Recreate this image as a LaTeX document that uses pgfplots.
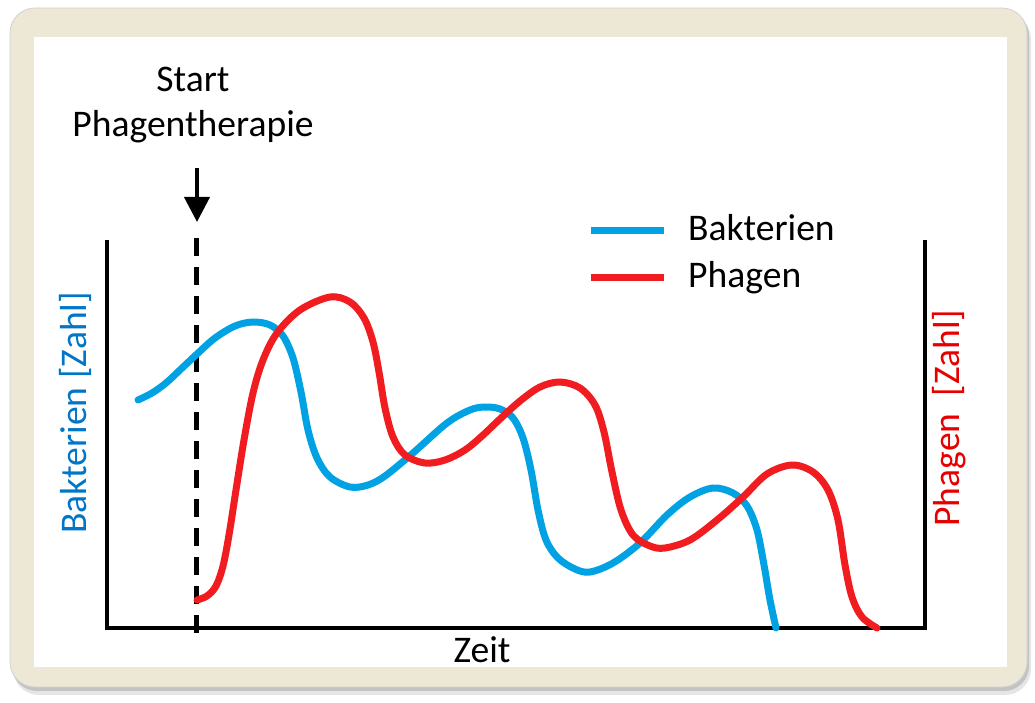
\documentclass[border=0pt]{standalone}
\usepackage{fontspec}
\setmainfont{Carlito}
\usepackage{pgfplots}
\pgfplotsset{compat=1.18}
\usetikzlibrary{arrows.meta}

\definecolor{bact}{RGB}{0,162,227}
\definecolor{phag}{RGB}{240,28,32}
\definecolor{bactlab}{RGB}{0,118,200}
\definecolor{phaglab}{RGB}{232,0,0}
\definecolor{framecol}{RGB}{236,232,213}

\newcommand{\bigfont}{\fontsize{37.6}{45}\selectfont}

\begin{document}
\begin{tikzpicture}
	% whole picture: 1035 x 703 (1px = 1pt, y counted from the bottom)
	\path (0pt,0pt) rectangle (1035pt,703pt);
	% frame: shadow, beige border, white panel
	\fill[black, opacity=0.10, rounded corners=26pt] (13pt,690pt) rectangle (1031pt,8pt);
	\fill[black, opacity=0.15, rounded corners=25pt] (12pt,692pt) rectangle (1029pt,12pt);
	\fill[framecol, draw=gray!35, line width=0.8pt, rounded corners=25pt] (10pt,695pt) rectangle (1027pt,16pt);
	\fill[white] (34pt,666pt) rectangle (1007pt,36pt);

	\begin{axis}[
		at={(0pt,0pt)}, anchor=south west,
		scale only axis, width=1035pt, height=703pt,
		xmin=0, xmax=1035, ymin=0, ymax=703,
		y dir=reverse,
		hide axis, clip=false,
		legend cell align=left,
		legend image code/.code={\draw[#1, line cap=butt] (0pt,0pt) -- (73pt,0pt);},
		legend style={at={(axis cs:587,212)}, anchor=north west,
			draw=none, fill=none, inner sep=0pt, row sep=11pt,
			font=\bigfont,
			nodes={inner sep=0pt, text height=28pt, text depth=8pt}},
		/tikz/every odd column/.append style={column sep=21pt},
	]
		% axes: left, bottom, right
		\draw[line width=4pt, line join=miter]
			(axis cs:107,240) -- (axis cs:107,628) -- (axis cs:925,628) -- (axis cs:925,240);

		% start of therapy
		\draw[line width=5pt, dash pattern=on 18pt off 11pt] (axis cs:196,238) -- (axis cs:196,640);
		\draw[line width=4pt, -{Triangle[length=25pt,width=25pt]}] (axis cs:197,168) -- (axis cs:197,222);

		\addplot[bact, line width=7pt, smooth, tension=0.55, line cap=round] table {
			x y
			138 400
			152 393
			166 383
			181 369
			197 354
			215 338
			235 326
			253 322
			270 325
			283 336
			293 358
			301 392
			308 430
			317 458
			330 477
			350 487
			368 485
			385 476
			413 453
			447 423
			470 410
			485 407
			500 409
			513 418
			523 438
			531 470
			538 510
			546 540
			558 558
			575 569
			590 572
			613 563
			640 543
			667 515
			690 497
			713 488
			733 493
			747 506
			757 530
			764 565
			770 600
			776 628
		};
		\addlegendentry{Bakterien}

		\addplot[phag, line width=7pt, smooth, tension=0.55, line cap=round] table {
			x y
			197 600
			207 596
			216 586
			223 566
			229 535
			236 490
			244 440
			253 393
			263 360
			277 333
			300 310
			330 297
			350 302
			364 318
			373 342
			379 372
			385 408
			393 437
			405 455
			425 463
			445 460
			465 450
			482 436
			500 419
			520 401
			540 387
			560 382
			580 388
			595 405
			604 432
			612 472
			621 510
			633 535
			650 546
			665 548
			690 540
			717 520
			743 497
			767 474
			792 465
			813 472
			828 490
			838 520
			845 565
			852 597
			862 617
			877 628
		};
		\addlegendentry{Phagen}

		\node[font=\bigfont, anchor=base] at (axis cs:193,92) {Start};
		\node[font=\bigfont, anchor=base] at (axis cs:193,137) {Phagentherapie};
		\node[font=\bigfont, anchor=base] at (axis cs:482,662) {Zeit};
		\node[font=\bigfont, text=bactlab, rotate=90, anchor=base] at (axis cs:86,413) {Bakterien [Zahl]};
		\node[font=\bigfont, text=phaglab, rotate=90, anchor=base] at (axis cs:959,418) {Phagen\ \ [Zahl]};
	\end{axis}
\end{tikzpicture}
\end{document}
